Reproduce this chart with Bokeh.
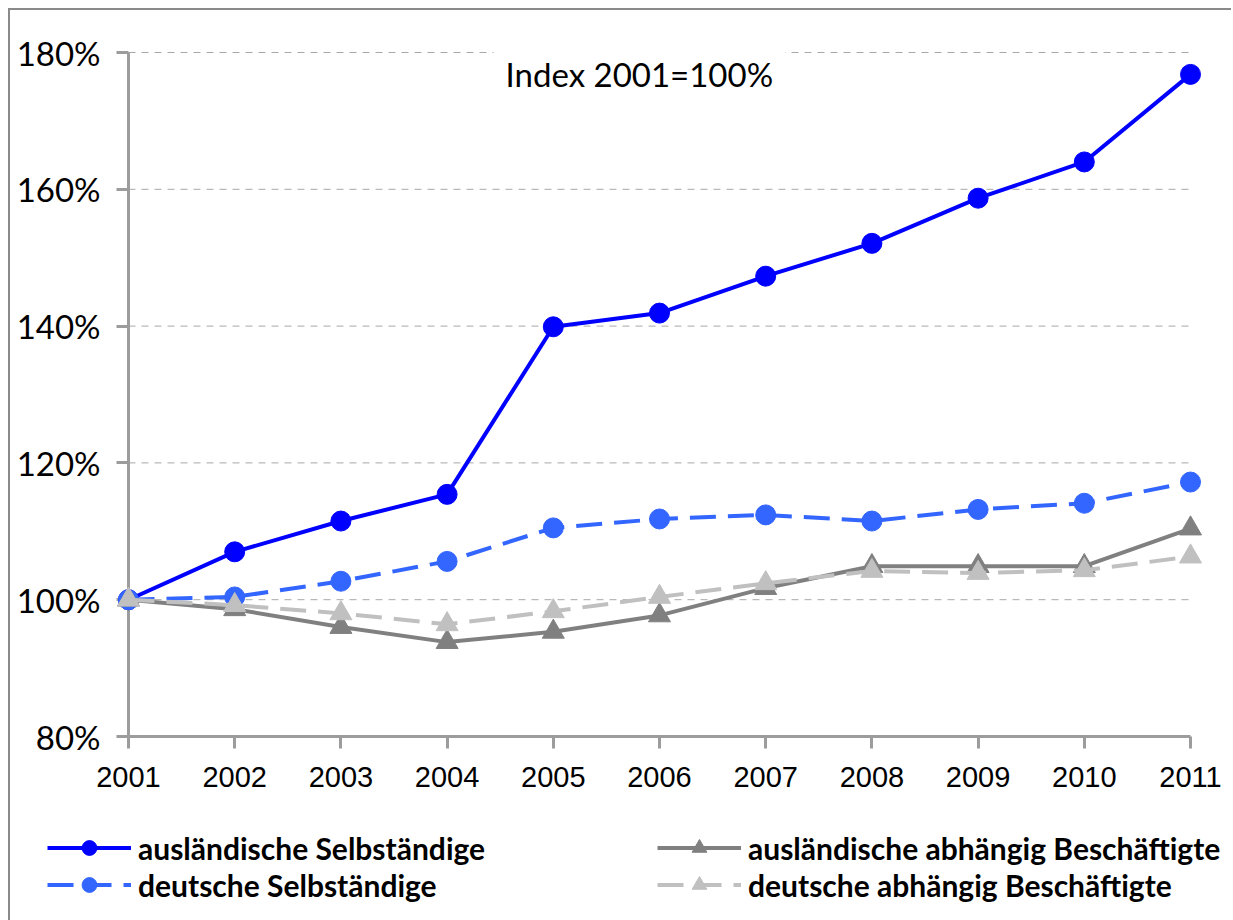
from bokeh.plotting import figure
from bokeh.models import FixedTicker, PrintfTickFormatter, Legend, LegendItem, Label
from bokeh.embed import file_html
from bokeh.resources import INLINE

# Index values, 2001 = 100 %
years = [2001, 2002, 2003, 2004, 2005, 2006, 2007, 2008, 2009, 2010, 2011]
ausl_selbst = [100, 107.0, 111.5, 115.4, 139.9, 141.9, 147.3, 152.1, 158.7, 164.0, 176.8]
deut_selbst = [100, 100.4, 102.7, 105.6, 110.5, 111.8, 112.4, 111.5, 113.2, 114.1, 117.2]
ausl_abh = [100, 98.6, 96.0, 93.8, 95.3, 97.7, 101.7, 104.9, 104.9, 104.9, 110.4]
deut_abh = [100, 99.2, 98.0, 96.4, 98.3, 100.4, 102.4, 104.2, 103.9, 104.3, 106.3]

y_ticks = [80, 100, 120, 140, 160, 180]
series_labels = [
    "ausländische Selbständige",
    "deutsche Selbständige",
    "ausländische abhängig Beschäftigte",
    "deutsche abhängig Beschäftigte",
]
note = "Index 2001=100%"

CAL = "Lato"
AXIS_GREY = "#9c9c9c"

# series styles: (colour, dash, marker, marker size)
styles = [
    ("#0000FF", "solid", "circle", 20),
    ("#3366FF", "26 12", "circle", 20),
    ("#808080", "solid", "triangle", 22),
    ("#C0C0C0", "26 12", "triangle", 22),
]
series = [ausl_selbst, deut_selbst, ausl_abh, deut_abh]

# canvas layout (pixels): the plot frame fills the whole canvas so that the
# tick labels and the legend underneath are inside it; the axes are pinned
# to 2001 / 80 %
W, H = 1223, 912
axis_left, axis_right = 118, 1180      # canvas x of first / last year
axis_top, axis_bottom = 42, 726        # canvas y of top / bottom tick
px_year = (axis_right - axis_left) / (years[-1] - years[0])
px_unit = (axis_bottom - axis_top) / (y_ticks[-1] - y_ticks[0])
x_start = years[0] - axis_left / px_year
x_end = years[-1] + (W - axis_right) / px_year
y_start = y_ticks[0] - (H - axis_bottom) / px_unit
y_end = y_ticks[-1] + axis_top / px_unit

p = figure(
    width=W, height=H,
    x_range=(x_start, x_end), y_range=(y_start, y_end),
    output_backend="svg", toolbar_location=None,
    min_border=0,
    margin=(8, 0, 0, 8),
    styles={"border-left": "2px solid #8a8a8a", "border-top": "2px solid #8a8a8a"},
)
p.outline_line_color = None
p.background_fill_color = "white"
p.border_fill_color = "white"
p.xgrid.visible = False
p.ygrid.visible = False

# dashed horizontal gridlines across the year span
p.segment(x0=years[0], x1=years[-1], y0=y_ticks, y1=y_ticks,
          line_color="#a8a8a8", line_width=1, line_dash="7 6", level="underlay")

# x axis
p.xaxis.fixed_location = y_ticks[0]
p.xaxis.ticker = FixedTicker(ticks=years)
p.xaxis.bounds = (years[0], years[-1])
p.xaxis.axis_line_color = AXIS_GREY
p.xaxis.axis_line_width = 3
p.xaxis.major_tick_line_color = AXIS_GREY
p.xaxis.major_tick_line_width = 3
p.xaxis.major_tick_out = 12
p.xaxis.major_tick_in = 0
p.xaxis.minor_tick_line_color = None
p.xaxis.major_label_text_font = "Liberation Sans"
p.xaxis.major_label_text_font_size = "29px"
p.xaxis.major_label_text_color = "black"
p.xaxis.major_label_standoff = 18

# y axis
p.yaxis.fixed_location = years[0]
p.yaxis.ticker = FixedTicker(ticks=y_ticks)
p.yaxis.bounds = (y_ticks[0], y_ticks[-1])
p.yaxis.formatter = PrintfTickFormatter(format="%d%%")
p.yaxis.axis_line_color = AXIS_GREY
p.yaxis.axis_line_width = 3
p.yaxis.major_tick_line_color = AXIS_GREY
p.yaxis.major_tick_line_width = 3
p.yaxis.major_tick_out = 12
p.yaxis.major_tick_in = 0
p.yaxis.minor_tick_line_color = None
p.yaxis.major_label_text_font = CAL
p.yaxis.major_label_text_font_size = "33px"
p.yaxis.major_label_text_color = "black"
p.yaxis.major_label_standoff = 16

# series lines + markers, drawn above the axes
items = []
for lab, vals, (col, dash, mk, sz) in zip(series_labels, series, styles):
    rl = p.line(years, vals, line_color=col, line_width=4, line_dash=dash,
                level="annotation")
    rm = p.scatter(years, vals, marker=mk, size=sz, fill_color=col, line_color=col,
                   level="annotation")
    items.append(LegendItem(label=lab, renderers=[rl, rm]))

# note box at the top of the plot area
p.add_layout(Label(
    x=2005.81, y=176.9, text=note,
    text_font=CAL, text_font_size="33px", text_color="black",
    text_align="center", text_baseline="alphabetic",
    background_fill_color="white", padding=12,
))

# two-column legend under the x axis
legend = Legend(
    items=items,
    location=(37, 19),
    orientation="vertical", ncols=2,
    glyph_width=84, glyph_height=37,
    label_width=519, label_height=37,
    label_standoff=7, spacing=0,
    padding=0, margin=0,
    border_line_color=None, background_fill_alpha=0,
    label_text_font=CAL, label_text_font_style="bold",
    label_text_font_size="30px", label_text_color="black",
)
p.add_layout(legend, "center")

open("out.html", "w").write(file_html(p, INLINE))
